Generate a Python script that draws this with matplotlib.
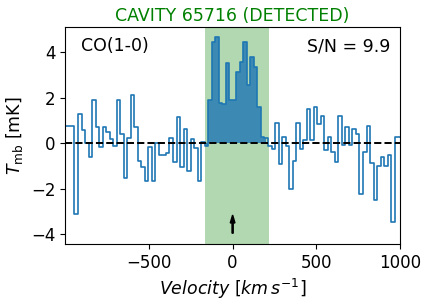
import numpy as np
import matplotlib
matplotlib.use("Agg")
import matplotlib.pyplot as plt

# spectrum (channel centres start at v_first, step dv)
v_first = -996.3
dv = 21.0
tmb = [0.78,
       0.78, 0.75, -3.10, 1.31, 0.58, 0.0, -0.58, 1.90, 0.70, -0.14,
       0.70, 0.51, 0.19, -0.12, 1.90, 0.41, -1.54, 0.22, 2.11, 0.70,
       -0.76, -1.02, -1.64, -0.17, -1.64, 0.0, -0.52, -0.52, -0.43, 0.22,
       -0.84, 1.14, -1.05, 0.65, -1.20, 0.19, -0.22, -1.64, 0.07, -0.10,
       1.93, 4.47, 4.70, 1.76, 1.72, 3.52, 1.93, 1.93, 3.15, 3.59,
       4.47, 2.57, 3.81, 3.37, 1.61, 0.29, 0.25,
       -0.10, -0.25, 0.89, -0.91, 0.26, -0.10, -2.02, -0.76, 0.89, -0.25,
       0.14, 1.51, 0.14, 1.58, 0.85, 1.20, -0.29, 0.26, -0.39, -0.84,
       1.20, -0.06, 0.71, -0.06, 0.63, 0.41, -2.22, -0.36, 0.76, -0.88,
       -2.49, -0.98, -0.62, -0.98, -0.52, -3.47, 0.26, 0.26]

window = (-165, 217)      # integration window
sn = 9.9
name = "CAVITY 65716 (DETECTED)"
line = "CO(1-0)"

v = v_first + dv * np.arange(len(tmb))
tmb = np.array(tmb)

fig = plt.figure(figsize=(4.28, 3.04), dpi=100)
ax = fig.add_axes([0.152, 0.197, 0.783, 0.715])

ax.axvspan(window[0], window[1], color="green", alpha=0.3, lw=0)
inwin = (v > window[0]) & (v < window[1])
ax.fill_between(v, 0, tmb, where=inwin, step="mid", color="#1f77b4", alpha=0.8, lw=0)
ax.step(v, tmb, where="mid", color="#1f77b4", lw=1.2)
ax.axhline(0, color="k", ls="--", lw=1.4)

ax.arrow(0, -3.95, 0, 0.45, width=7, head_width=28, head_length=0.35,
         color="k", length_includes_head=False)

ax.text(0.048, 0.91, line, transform=ax.transAxes, fontsize=12.5, va="center")
ax.text(0.97, 0.91, "S/N = %.1f" % sn, transform=ax.transAxes, fontsize=12.5,
        va="center", ha="right")
ax.set_title(name, color="green", fontsize=12.5, pad=4)

ax.set_xlim(-1000, 1000)
ax.set_ylim(-4.43, 5.13)
ax.set_xticks([-500, 0, 500, 1000])
ax.set_yticks([-4, -2, 0, 2, 4])
ax.tick_params(labelsize=12)
ax.set_xlabel(r"$Velocity\ [km\,s^{-1}]$", fontsize=12.5)
ax.set_ylabel(r"$T_{\rm mb}$ [mK]", fontsize=12.5)

fig.savefig("out.png", dpi=100)
